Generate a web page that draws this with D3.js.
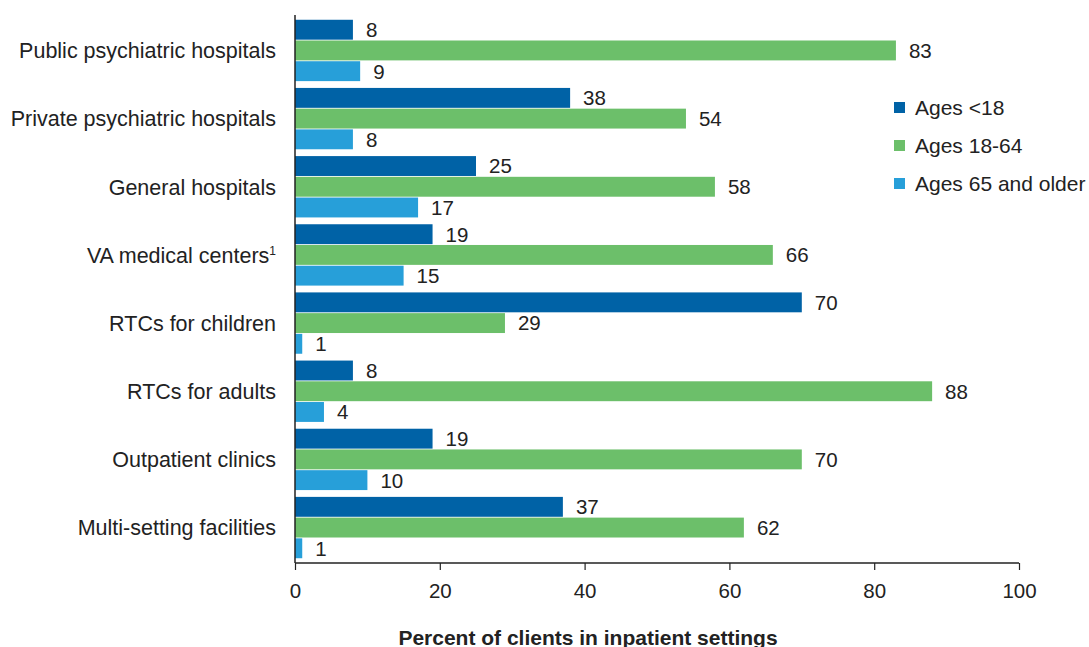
<!DOCTYPE html>
<html><head><meta charset="utf-8">
<script src="https://cdn.jsdelivr.net/npm/d3@7"></script>
<style>body{margin:0;background:#fff;} svg{display:block;font-family:"Liberation Sans",Arial,sans-serif;}</style>
</head><body>
<svg id="c" width="1089" height="647"></svg>
<script>
const categories = ["Public psychiatric hospitals","Private psychiatric hospitals","General hospitals","VA medical centers","RTCs for children","RTCs for adults","Outpatient clinics","Multi-setting facilities"];
const seriesNames = ["Ages <18","Ages 18-64","Ages 65 and older"];
const under18 = [8,38,25,19,70,8,19,37];
const age18to64 = [83,54,58,66,29,88,70,62];
const age65plus = [9,8,17,15,1,4,10,1];
const xTicks = [0,20,40,60,80,100];
const colors = ["#0062a6","#6cbf6a","#279fd9"];

const series = [under18, age18to64, age65plus];
const svg = d3.select("#c");
const x = d3.scaleLinear().domain([0,100]).range([295,1019]);
const y = d3.scaleBand().domain(categories).range([15,563]).paddingInner(0.1).paddingOuter(0.07);
const ys = d3.scaleBand().domain(d3.range(3)).range([0,y.bandwidth()]).paddingInner(0.04);

const g = svg.append("g");
categories.forEach((c,i)=>{
  series.forEach((s,k)=>{
    g.append("rect").attr("x",x(0)).attr("y",y(c)+ys(k)).attr("width",x(s[i])-x(0)).attr("height",ys.bandwidth()).attr("fill",colors[k]);
    g.append("text").attr("x",x(s[i])+13).attr("y",y(c)+ys(k)+ys.bandwidth()/2).attr("dy","0.36em")
      .attr("font-size",20.5).attr("fill","#222").text(s[i]);
  });
  const t = g.append("text").attr("x",276).attr("y",y(c)+y.bandwidth()/2).attr("dy","0.36em")
    .attr("text-anchor","end").attr("font-size",21.5).attr("fill","#222").text(c);
  if(c==="VA medical centers") t.append("tspan").attr("font-size",12).attr("dy","-0.6em").text("1");
});

// axes
const xa = svg.append("g").attr("transform","translate(0,563)").call(d3.axisBottom(x).tickValues(xTicks).tickSize(7).tickPadding(13));
xa.select(".domain").attr("stroke","#222").attr("stroke-width",1.5).attr("d","M295,0H1019");
xa.selectAll(".tick line").attr("stroke","#222").attr("stroke-width",1.2);
xa.selectAll(".tick text").attr("font-size",20.5).attr("fill","#222").attr("font-family","'Liberation Sans',Arial,sans-serif");
svg.append("line").attr("x1",295).attr("x2",295).attr("y1",15).attr("y2",563).attr("stroke","#222").attr("stroke-width",1.5);

svg.append("text").attr("x",588).attr("y",645).attr("text-anchor","middle").attr("font-size",21).attr("font-weight","bold").attr("fill","#222").text("Percent of clients in inpatient settings");

// legend
const ly = [107,145,183];
seriesNames.forEach((n,k)=>{
  svg.append("rect").attr("x",894).attr("y",ly[k]-5).attr("width",11).attr("height",11).attr("fill",colors[k]);
  svg.append("text").attr("x",915).attr("y",ly[k]).attr("dy","0.36em").attr("font-size",21).attr("fill","#222").text(n);
});
</script>
</body></html>
